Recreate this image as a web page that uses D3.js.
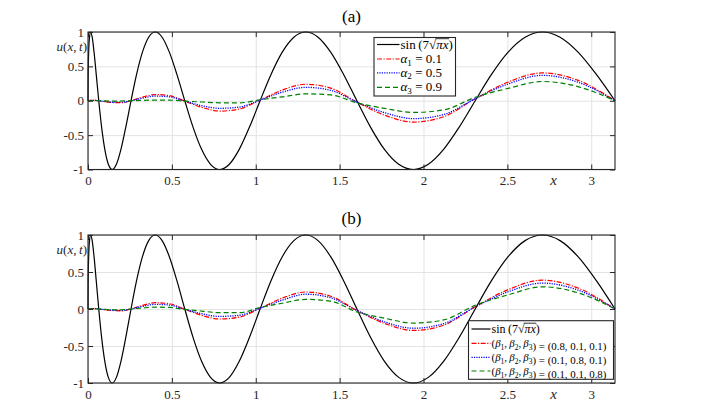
<!DOCTYPE html>
<html><head><meta charset="utf-8">
<script src="https://cdn.jsdelivr.net/npm/d3@7/dist/d3.min.js"></script>
<style>
html,body{margin:0;padding:0;background:#fff;}
svg{display:block;}
</style></head>
<body><svg id="chart" width="704" height="416" font-family="'Liberation Serif','DejaVu Serif',serif"></svg>
<script>
// ---------- data ----------
const xTicks = [0, 0.5, 1, 1.5, 2, 2.5, 3];
const xTickLabels = ["0", "0.5", "1", "1.5", "2", "2.5", "3"];
const yTicks = [-1, -0.5, 0, 0.5, 1];
const yTickLabels = ["-1", "-0.5", "0", "0.5", "1"];

// sample positions along x for the reference curve sin(7*sqrt(pi x))
const xRef = [0,0.0010,0.0040,0.0090,0.0160,0.0250,0.0361,0.0491,0.0641,0.0811,0.1002,0.1212,0.1443,0.1693,0.1964,0.2254,
  0.2565,0.2895,0.3246,0.3616,0.4007,0.4418,0.4849,0.5300,0.5770,0.6261,0.6772,0.7303,0.7854,0.8425,0.9016,0.9627,
  1.0258,1.0910,1.1581,1.2272,1.2983,1.3715,1.4466,1.5237,1.6029,1.6840,1.7672,1.8524,1.9395,2.0287,2.1198,2.2130,
  2.3082,2.4053,2.5045,2.6057,2.7089,2.8141,2.9213,3.0304,3.1416];
const uRef = [0,.383,.707,.924,1,.924,.707,.383, 0,-.383,-.707,-.924,-1,-.924,-.707,-.383,
  0,.383,.707,.924,1,.924,.707,.383, 0,-.383,-.707,-.924,-1,-.924,-.707,-.383,
  0,.383,.707,.924,1,.924,.707,.383, 0,-.383,-.707,-.924,-1,-.924,-.707,-.383,
  0,.383,.707,.924,1,.924,.707,.383, 0];

// sample positions for the approximate solutions
const xSol = [0,0.0040,0.0160,0.0361,0.0641,0.1002,0.1443,0.1964,0.2565,0.3246,0.4007,0.4849,0.5770,0.6772,0.7854,
  0.9016,1.0258,1.1581,1.2983,1.4466,1.6029,1.7672,1.9395,2.1198,2.3082,2.5045,2.7089,2.9213,3.1416];

// panel (a)
const uAlpha1 = [0,0.002,0.006,0.007,0,-0.014,-0.025,-0.028,0,0.053,0.09,0.074,-0.005,-0.095,-0.15,-0.12,0.01,0.156,0.24,0.184,-0.02,-0.209,-0.31,-0.233,0.03,0.272,0.405,0.297,0];
const uAlpha2 = [0,0.001,0.004,0.005,0,-0.011,-0.02,-0.021,0,0.039,0.068,0.057,-0.004,-0.071,-0.11,-0.092,0.01,0.124,0.195,0.152,-0.02,-0.173,-0.26,-0.201,0.03,0.244,0.37,0.269,0];
const uAlpha3 = [0,0,0.001,0.001,0,-0.003,-0.005,-0.004,0,0.006,0.01,0.009,-0.005,-0.018,-0.03,-0.032,0.015,0.057,0.10,0.085,-0.03,-0.11,-0.17,-0.134,0.05,0.18,0.28,0.205,0];

// panel (b)
const uBeta1 = [0,0.001,0.005,0.005,0,-0.011,-0.02,-0.025,0,0.049,0.085,0.071,-0.004,-0.085,-0.135,-0.11,0.01,0.148,0.23,0.173,-0.02,-0.194,-0.29,-0.219,0.03,0.262,0.39,0.283,0];
const uBeta2 = [0,0.001,0.004,0.004,0,-0.008,-0.015,-0.018,0,0.035,0.063,0.053,-0.003,-0.064,-0.10,-0.085,0.01,0.12,0.20,0.152,-0.02,-0.173,-0.26,-0.198,0.03,0.233,0.35,0.255,0];
const uBeta3 = [0,0.001,0.002,0.002,0,-0.004,-0.01,-0.01,0,0.014,0.025,0.021,-0.005,-0.028,-0.05,-0.05,0.02,0.078,0.13,0.106,-0.04,-0.124,-0.19,-0.148,0.05,0.191,0.30,0.219,0];

const legendA = ["α1 = 0.1", "α2 = 0.5", "α3 = 0.9"];
const legendB = ["(0.8, 0.1, 0.1)", "(0.1, 0.8, 0.1)", "(0.1, 0.1, 0.8)"];

// ---------- drawing ----------
const FONT = "'Liberation Serif','DejaVu Serif',serif";
const svg = d3.select("#chart");
const X0 = 88, X1 = 615;
const styles = [
  {color:"#ff0000", dash:"5,1.5,1.2,1.5", w:1.2},
  {color:"#0000ff", dash:"1.2,1.2", w:1.3},
  {color:"#008000", dash:"5,3", w:1.2}
];

function panel(cfg){
  const g = svg.append("g");
  const x = d3.scaleLinear().domain([0, Math.PI]).range([X0, X1]);
  const y = d3.scaleLinear().domain([-1, 1]).range([cfg.bottom, cfg.top]);
  const h = cfg.bottom - cfg.top;

  // grid
  g.append("g").attr("transform", `translate(0,${cfg.bottom})`)
    .call(d3.axisBottom(x).tickValues(xTicks).tickSize(-h).tickFormat(""))
    .call(a => { a.select(".domain").remove(); a.selectAll("line").attr("stroke","#e3e3e3").attr("stroke-width",1); });
  g.append("g").attr("transform", `translate(${X0},0)`)
    .call(d3.axisLeft(y).tickValues(yTicks).tickSize(-(X1-X0)).tickFormat(""))
    .call(a => { a.select(".domain").remove(); a.selectAll("line").attr("stroke","#e3e3e3").attr("stroke-width",1); });

  // curves
  const lineRef = d3.line().x((d,i)=>x(xRef[i])).y(d=>y(d)).curve(d3.curveMonotoneX);
  g.append("path").attr("d", lineRef(uRef)).attr("fill","none").attr("stroke","#000").attr("stroke-width",1.2);
  const lineSol = d3.line().x((d,i)=>x(xSol[i])).y(d=>y(d)).curve(d3.curveMonotoneX);
  cfg.series.forEach((s,i)=>{
    g.append("path").attr("d", lineSol(s)).attr("fill","none")
      .attr("stroke", styles[i].color).attr("stroke-width", styles[i].w)
      .attr("stroke-dasharray", styles[i].dash);
  });

  // box + inward ticks
  const tickStyle = a => { a.select(".domain").remove(); a.selectAll("line").attr("stroke","#262626").attr("stroke-width",1); };
  const textStyle = a => a.attr("font-family", FONT).attr("font-size", 13)
      .selectAll("text").attr("fill","#262626");
  g.append("g").attr("transform", `translate(0,${cfg.bottom})`)
    .call(d3.axisBottom(x).tickValues(xTicks).tickSize(-5).tickPadding(6.5).tickFormat((d,i)=>xTickLabels[i]))
    .call(tickStyle).call(textStyle);
  g.append("g").attr("transform", `translate(0,${cfg.top})`)
    .call(d3.axisTop(x).tickValues(xTicks).tickSize(-5).tickFormat("")).call(tickStyle);
  g.append("g").attr("transform", `translate(${X0},0)`)
    .call(d3.axisLeft(y).tickValues(yTicks).tickSize(-5).tickPadding(4).tickFormat((d,i)=>yTickLabels[i]))
    .call(tickStyle).call(textStyle);
  g.append("g").attr("transform", `translate(${X1},0)`)
    .call(d3.axisRight(y).tickValues(yTicks).tickSize(-5).tickFormat("")).call(tickStyle);
  g.append("rect").attr("x",X0).attr("y",cfg.top).attr("width",X1-X0).attr("height",h)
    .attr("fill","none").attr("stroke","#262626").attr("stroke-width",1.1);

  // title
  g.append("text").attr("x",(X0+X1)/2).attr("y",cfg.titleY).attr("text-anchor","middle")
    .attr("font-size",17).attr("fill","#000").text(cfg.title);
  // y label
  const yl = g.append("text").attr("x",87).attr("y",cfg.top+19).attr("text-anchor","end")
    .attr("font-size",13).attr("fill","#262626");
  yl.append("tspan").attr("font-style","italic").text("u");
  yl.append("tspan").text("(");
  yl.append("tspan").attr("font-style","italic").text("x");
  yl.append("tspan").text(",\u2009");
  yl.append("tspan").attr("font-style","italic").text("t");
  yl.append("tspan").text(")");
  // x label
  g.append("text").attr("x",553.5).attr("y",cfg.bottom+15.5).attr("text-anchor","middle")
    .attr("font-size",15).attr("font-style","italic").attr("fill","#262626").text("x");

  // legend
  const L = cfg.legend;
  g.append("rect").attr("x",L.x).attr("y",L.y).attr("width",L.w).attr("height",L.h)
    .attr("fill","#fff").attr("stroke","#262626").attr("stroke-width",1.1);
  const rowsY = L.rows;
  const all = [{color:"#000",dash:null,w:1.2}].concat(styles);
  all.forEach((s,i)=>{
    const ln = g.append("line").attr("x1",L.x+3).attr("x2",L.x+3+L.lineLen)
      .attr("y1",rowsY[i]).attr("y2",rowsY[i]).attr("stroke",s.color).attr("stroke-width",s.w);
    if (s.dash) ln.attr("stroke-dasharray", s.dash);
  });
  const tx = L.x + 3 + L.lineLen + 1;
  // sin entry
  const t0 = g.append("text").attr("x",tx).attr("y",rowsY[0]+4).attr("font-size",L.fs).attr("fill","#000");
  t0.append("tspan").text("sin\u2009(7");
  t0.append("tspan").text("\u221A");
  t0.append("tspan").attr("font-style","italic").text("πx");
  t0.append("tspan").text(")");
  const end = t0.node().getEndPositionOfChar(8);
  const sqrtEnd = t0.node().getEndPositionOfChar(6);
  g.append("line").attr("x1",sqrtEnd.x-0.8).attr("x2",end.x+0.5).attr("y1",rowsY[0]-5.8).attr("y2",rowsY[0]-5.8)
    .attr("stroke","#000").attr("stroke-width",0.8);

  cfg.labels.forEach((lab,i)=>{
    const t = g.append("text").attr("x",tx).attr("y",rowsY[i+1]+4).attr("font-size",L.fs).attr("fill","#000");
    if (cfg.kind === "a") {
      t.append("tspan").attr("font-style","italic").text(lab[0]);
      t.append("tspan").attr("font-size",L.fs*0.7).attr("dy",2.5).text(lab[1]);
      t.append("tspan").attr("dy",-2.5).text(lab.slice(2));
    } else {
      t.append("tspan").text("(");
      [1,2,3].forEach(k=>{
        t.append("tspan").attr("font-style","italic").text("β");
        t.append("tspan").attr("font-size",L.fs*0.7).attr("dy",2.5).text(String(k));
        t.append("tspan").attr("dy",-2.5).text(k<3 ? ",\u2009" : "");
      });
      t.append("tspan").text(") = " + lab);
    }
    if (L.fitW) {
      const w = t.node().getComputedTextLength();
      const f = L.fitW / w;
      t.attr("font-size", L.fs*f);
      t.selectAll("tspan").each(function(){
        const fs = d3.select(this).attr("font-size");
        if (fs) d3.select(this).attr("font-size", fs*f);
      });
    }
  });
}

panel({kind:"a", title:"(a)", titleY:22, top:32, bottom:169.5,
  series:[uAlpha1, uAlpha2, uAlpha3], labels:legendA,
  legend:{x:374, y:37.5, w:81.5, h:58.5, lineLen:22.5, fs:13, rows:[44.5,59,72.8,87.3]}});
panel({kind:"b", title:"(b)", titleY:224, top:235, bottom:383,
  series:[uBeta1, uBeta2, uBeta3], labels:legendB,
  legend:{x:468.5, y:320.7, w:145, h:58.6, lineLen:19, fs:12, rows:[329,343.3,357.3,371], fitW:115}});
</script>
</body></html>
